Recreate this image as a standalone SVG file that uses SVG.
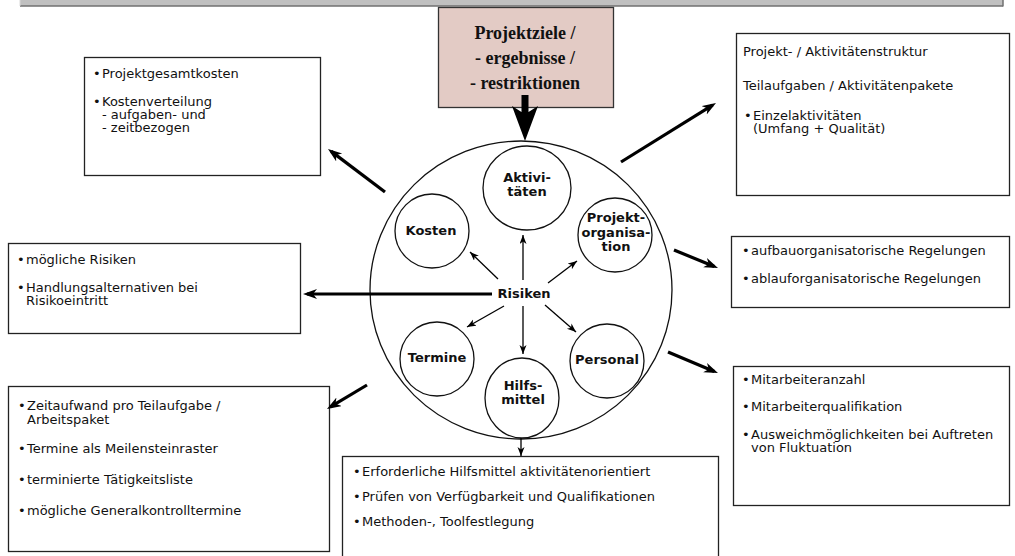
<svg xmlns="http://www.w3.org/2000/svg" width="1015" height="556" viewBox="0 0 1015 556">
  <style>
    .box { fill: #ffffff; stroke: #222222; stroke-width: 1.3; }
    .txt { font-family: "DejaVu Sans", Verdana, sans-serif; font-size: 13px; fill: #111111; }
    .lbl { font-family: "DejaVu Sans", Verdana, sans-serif; font-size: 13px; font-weight: bold; fill: #111111; text-anchor: middle; }
    .goal { font-family: "Liberation Serif", "Times New Roman", serif; font-size: 18px; font-weight: bold; fill: #111111; text-anchor: middle; }
    .ring { fill: #ffffff; stroke: #111111; stroke-width: 1.3; }
    .thick { stroke: #000000; stroke-width: 3.2; fill: none; marker-end: url(#headBig); }
    .thin { stroke: #000000; stroke-width: 1.3; fill: none; marker-end: url(#headSmall); }
  </style>
  <defs>
    <marker id="headBig" markerUnits="userSpaceOnUse" markerWidth="16" markerHeight="12" refX="10" refY="5" orient="auto">
      <path d="M0,0 L14,5 L0,10 L4,5 Z" fill="#000000"/>
    </marker>
    <marker id="headSmall" markerUnits="userSpaceOnUse" markerWidth="11" markerHeight="9" refX="9" refY="3.5" orient="auto">
      <path d="M0,0 L9,3.5 L0,7 L2.5,3.5 Z" fill="#000000"/>
    </marker>
  </defs>

  <rect width="1015" height="556" fill="#ffffff"/>

  <!-- title bar along the top edge -->
  <g id="topbar">
    <rect x="20" y="-2" width="983" height="8" fill="#c0c0c0"/>
    <line x1="20" y1="6" x2="1003" y2="6" stroke="#707070" stroke-width="1.5"/>
    <line x1="1003" y1="-2" x2="1003" y2="6.5" stroke="#707070" stroke-width="1.5"/>
    <line x1="20" y1="-2" x2="20" y2="6" stroke="#d8d8d8" stroke-width="1"/>
  </g>

  <!-- goals box -->
  <g id="ziele">
    <rect x="438.5" y="7.5" width="175" height="100" fill="#e3cbc5" stroke="#333333" stroke-width="1.3"/>
    <text class="goal" x="525" y="39">Projektziele /</text>
    <text class="goal" x="525" y="64">- ergebnisse /</text>
    <text class="goal" x="525" y="89">- restriktionen</text>
    <path d="M521.5,95 H528.5 V112 L538,106 L525,141 L512,106 L521.5,112 Z" fill="#000000"/>
  </g>

  <!-- central planning circle -->
  <g id="zentrum">
    <ellipse cx="521" cy="290" rx="151" ry="149" fill="none" stroke="#111111" stroke-width="1.3"/>
  </g>
  <g id="aktivitaeten">
    <ellipse class="ring" cx="527" cy="188" rx="44" ry="42"/>
    <text class="lbl" x="527" y="182">Aktivi-</text>
    <text class="lbl" x="527" y="196">täten</text>
  </g>
  <g id="kosten">
    <circle class="ring" cx="432" cy="231" r="37"/>
    <text class="lbl" x="431" y="235">Kosten</text>
  </g>
  <g id="projektorganisation">
    <circle class="ring" cx="615" cy="235" r="37"/>
    <text class="lbl" x="616" y="222">Projekt-</text>
    <text class="lbl" x="616" y="237">organisa-</text>
    <text class="lbl" x="616" y="251">tion</text>
  </g>
  <g id="termine">
    <circle class="ring" cx="437" cy="359" r="37"/>
    <text class="lbl" x="437" y="362">Termine</text>
  </g>
  <g id="hilfsmittel">
    <ellipse class="ring" cx="522" cy="398" rx="37" ry="40"/>
    <text class="lbl" x="523" y="390">Hilfs-</text>
    <text class="lbl" x="523" y="404">mittel</text>
  </g>
  <g id="personal">
    <circle class="ring" cx="607" cy="361" r="37"/>
    <text class="lbl" x="607" y="364">Personal</text>
  </g>
  <g id="risiken">
    <text class="lbl" x="524" y="298">Risiken</text>
  </g>

  <!-- outer boxes -->
  <g id="box-kosten">
    <rect class="box" x="84.5" y="57.5" width="236" height="118"/>
    <text class="txt" x="93" y="78">•</text><text class="txt" x="102" y="78">Projektgesamtkosten</text>
    <text class="txt" x="93" y="106">•</text><text class="txt" x="102" y="106">Kostenverteilung</text>
    <text class="txt" x="102" y="119">- aufgaben- und</text>
    <text class="txt" x="102" y="132">- zeitbezogen</text>
  </g>
  <g id="box-struktur">
    <rect class="box" x="736.5" y="33.5" width="273" height="162"/>
    <text class="txt" x="743" y="56">Projekt- / Aktivitätenstruktur</text>
    <text class="txt" x="743" y="90">Teilaufgaben / Aktivitätenpakete</text>
    <text class="txt" x="744" y="120">•</text><text class="txt" x="753" y="120">Einzelaktivitäten</text>
    <text class="txt" x="753" y="133">(Umfang + Qualität)</text>
  </g>
  <g id="box-risiken">
    <rect class="box" x="8.5" y="243.5" width="292" height="90"/>
    <text class="txt" x="17" y="264">•</text><text class="txt" x="26" y="264">mögliche Risiken</text>
    <text class="txt" x="17" y="292">•</text><text class="txt" x="26" y="292">Handlungsalternativen bei</text>
    <text class="txt" x="26" y="305">Risikoeintritt</text>
  </g>
  <g id="box-organisation">
    <rect class="box" x="731.5" y="236.5" width="278" height="71"/>
    <text class="txt" x="742" y="255">•</text><text class="txt" x="751" y="255">aufbauorganisatorische Regelungen</text>
    <text class="txt" x="742" y="283">•</text><text class="txt" x="751" y="283">ablauforganisatorische Regelungen</text>
  </g>
  <g id="box-termine">
    <rect class="box" x="8.5" y="386.5" width="321" height="165"/>
    <text class="txt" x="18" y="410">•</text><text class="txt" x="27" y="410">Zeitaufwand pro Teilaufgabe /</text>
    <text class="txt" x="27" y="424">Arbeitspaket</text>
    <text class="txt" x="18" y="453">•</text><text class="txt" x="27" y="453">Termine als Meilensteinraster</text>
    <text class="txt" x="18" y="484">•</text><text class="txt" x="27" y="484">terminierte Tätigkeitsliste</text>
    <text class="txt" x="18" y="515">•</text><text class="txt" x="27" y="515">mögliche  Generalkontrolltermine</text>
  </g>
  <g id="box-hilfsmittel">
    <rect class="box" x="342.5" y="456.5" width="376" height="110"/>
    <text class="txt" x="353" y="476">•</text><text class="txt" x="362" y="476">Erforderliche Hilfsmittel aktivitätenorientiert</text>
    <text class="txt" x="353" y="501">•</text><text class="txt" x="362" y="501">Prüfen von Verfügbarkeit und Qualifikationen</text>
    <text class="txt" x="353" y="526">•</text><text class="txt" x="362" y="526">Methoden-, Toolfestlegung</text>
  </g>
  <g id="box-personal">
    <rect class="box" x="733.5" y="366.5" width="276" height="139"/>
    <text class="txt" x="742" y="384">•</text><text class="txt" x="751" y="384">Mitarbeiteranzahl</text>
    <text class="txt" x="742" y="411">•</text><text class="txt" x="751" y="411">Mitarbeiterqualifikation</text>
    <text class="txt" x="742" y="439">•</text><text class="txt" x="751" y="439">Ausweichmöglichkeiten bei Auftreten</text>
    <text class="txt" x="751" y="452">von Fluktuation</text>
  </g>

  <!-- connectors -->
  <g id="connectors">
    <line class="thick" x1="385" y1="192" x2="331.2" y2="151.4"/>
    <line class="thick" x1="621" y1="162" x2="712.6" y2="105.1"/>
    <line class="thick" x1="492" y1="294" x2="307" y2="294"/>
    <line class="thick" x1="674" y1="250" x2="714.3" y2="266.5"/>
    <line class="thick" x1="668" y1="352" x2="714.3" y2="371.5"/>
    <line class="thick" x1="367" y1="385" x2="330.4" y2="406.9"/>
    <line class="thin" x1="523" y1="280" x2="523" y2="235"/>
    <line class="thin" x1="498" y1="279" x2="470" y2="252"/>
    <line class="thin" x1="548" y1="283" x2="577" y2="261"/>
    <line class="thin" x1="504" y1="306" x2="467" y2="327"/>
    <line class="thin" x1="523" y1="306" x2="523" y2="354"/>
    <line class="thin" x1="545" y1="305" x2="576" y2="332"/>
    <line class="thin" x1="521" y1="438" x2="521" y2="456"/>
  </g>
</svg>
